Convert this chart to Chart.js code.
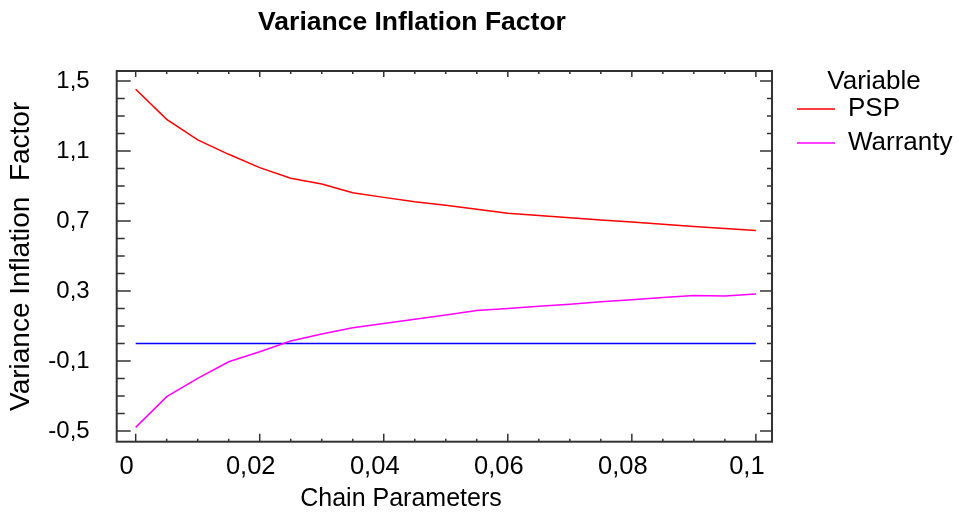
<!DOCTYPE html>
<html>
<head>
<meta charset="utf-8">
<script src="https://cdn.jsdelivr.net/npm/chart.js@4"></script>
<style>
  html, body { margin: 0; padding: 0; background: #fff; }
  #wrap { width: 959px; height: 515px; }
</style>
</head>
<body>
<div id="wrap"><canvas id="vif-chart"></canvas></div>
<script>
// values
const chainParams = [0, 0.005, 0.01, 0.015, 0.02, 0.025, 0.03, 0.035, 0.04, 0.045, 0.05,
                     0.055, 0.06, 0.065, 0.07, 0.075, 0.08, 0.085, 0.09, 0.095, 0.1];
const pspVif = [1.453, 1.281, 1.163, 1.081, 1.005, 0.944, 0.911, 0.862, 0.835, 0.810, 0.790,
                0.767, 0.744, 0.731, 0.719, 0.706, 0.694, 0.681, 0.669, 0.657, 0.645];
const warrantyVif = [-0.479, -0.304, -0.199, -0.104, -0.047, 0.014, 0.054, 0.090, 0.115, 0.138, 0.163,
                     0.188, 0.200, 0.213, 0.225, 0.238, 0.250, 0.263, 0.275, 0.272, 0.283];
const refLineX = [0, 0.1];
const refLineY = [0, 0];
const xTicks = [0, 0.02, 0.04, 0.06, 0.08, 0.1];
const yTicks = [-0.5, -0.1, 0.3, 0.7, 1.1, 1.5];

const FONT = "'Liberation Sans', Arial, sans-serif";
const chartTitle = 'Variance Inflation Factor';
const xTitle = 'Chain Parameters';

function fmt(v) {
    return String(v).replace('.', ',');
}

function toPoints(xs, ys) {
    return xs.map((x, i) => ({ x: x, y: ys[i] }));
}

// frame with inward tick marks on all four sides
const frameTicks = {
    id: 'frameTicks',
    afterDraw(chart) {
        const { ctx, chartArea: a } = chart;
        const x = chart.scales.x;
        const y = chart.scales.y;
        ctx.save();
        ctx.strokeStyle = '#333';
        ctx.lineWidth = 1.5;
        ctx.beginPath();
        for (let i = 0; i <= 20; i++) {
            const px = x.getPixelForValue(i * 0.005);
            const major = i % 4 === 0;
            ctx.moveTo(px, a.bottom);
            ctx.lineTo(px, a.bottom - (major ? 8 : 3));
            ctx.moveTo(px, a.top);
            ctx.lineTo(px, a.top + (major ? 6 : 3));
        }
        for (let i = 0; i <= 20; i++) {
            const py = y.getPixelForValue(-0.5 + i * 0.1);
            const major = i % 4 === 0;
            ctx.moveTo(a.left, py);
            ctx.lineTo(a.left + (major ? 14 : 8), py);
            ctx.moveTo(a.right, py);
            ctx.lineTo(a.right - (major ? 12 : 5), py);
        }
        ctx.stroke();
        ctx.lineWidth = 2;
        ctx.strokeRect(a.left, a.top, a.right - a.left, a.bottom - a.top);
        ctx.restore();
    }
};

// chart title and x title sit left of the plot centre in the original
const titles = {
    id: 'titles',
    afterDraw(chart) {
        const ctx = chart.ctx;
        ctx.save();
        ctx.fillStyle = '#000';
        ctx.textAlign = 'center';
        ctx.textBaseline = 'middle';
        ctx.font = 'bold 26.5px ' + FONT;
        ctx.fillText(chartTitle, 412, 23);
        ctx.font = '25px ' + FONT;
        ctx.fillText(xTitle, 401, 499);
        ctx.restore();
    }
};

const ctx = document.getElementById('vif-chart').getContext('2d');
const vifChart = new Chart(ctx, {
    type: 'line',
    data: {
        datasets: [
            {
                label: 'PSP',
                data: toPoints(chainParams, pspVif),
                borderColor: '#ff0000',
                backgroundColor: '#ff0000',
                borderWidth: 1.5,
                pointRadius: 0,
                tension: 0
            },
            {
                label: 'Warranty',
                data: toPoints(chainParams, warrantyVif),
                borderColor: '#ff00ff',
                backgroundColor: '#ff00ff',
                borderWidth: 1.5,
                pointRadius: 0,
                tension: 0
            },
            {
                label: 'ref',
                data: toPoints(refLineX, refLineY),
                borderColor: '#0000ff',
                backgroundColor: '#0000ff',
                borderWidth: 1.5,
                pointRadius: 0
            }
        ]
    },
    options: {
        responsive: true,
        maintainAspectRatio: false,
        animation: false,
        layout: { padding: 0 },
        plugins: {
            title: { display: false },
            legend: {
                position: 'right',
                align: 'start',
                maxWidth: 170,
                title: {
                    display: true,
                    text: 'Variable',
                    color: '#000',
                    font: { family: FONT, size: 26, lineHeight: 1 },
                    padding: { top: 69, bottom: -7 }
                },
                labels: {
                    boxWidth: 38,
                    boxHeight: 0,
                    padding: 8,
                    color: '#000',
                    font: { family: FONT, size: 26 },
                    filter: item => item.text !== 'ref'
                }
            },
            tooltip: { enabled: false }
        },
        scales: {
            x: {
                type: 'linear',
                position: 'bottom',
                min: -0.00306,
                max: 0.1026,
                afterBuildTicks: s => { s.ticks = xTicks.map(v => ({ value: v })); },
                afterFit: s => { s.height = 73.3; },
                grid: { display: false, drawTicks: false },
                border: { display: false },
                ticks: {
                    callback: v => fmt(v),
                    color: '#000',
                    font: { family: FONT, size: 25.5 },
                    padding: 10,
                    labelOffset: -9,
                    maxRotation: 0,
                    autoSkip: false
                }
            },
            y: {
                type: 'linear',
                position: 'left',
                min: -0.561,
                max: 1.557,
                afterBuildTicks: s => { s.ticks = yTicks.map(v => ({ value: v })); },
                afterFit: s => { s.width = 116.7; },
                grid: { display: false, drawTicks: false },
                border: { display: false },
                ticks: {
                    callback: v => fmt(v),
                    color: '#000',
                    font: { family: FONT, size: 24 },
                    padding: 27,
                    autoSkip: false
                },
                title: {
                    display: true,
                    text: 'Variance Inflation  Factor',
                    color: '#000',
                    font: { family: FONT, size: 28 },
                    padding: { top: 4.5, bottom: 0 }
                }
            },
            xTop: {
                type: 'linear',
                position: 'top',
                display: true,
                afterFit: s => { s.height = 71; },
                grid: { display: false, drawTicks: false },
                border: { display: false },
                ticks: { display: false }
            },
            yRight: {
                type: 'linear',
                position: 'right',
                display: true,
                afterFit: s => { s.width = 17; },
                grid: { display: false, drawTicks: false },
                border: { display: false },
                ticks: { display: false }
            }
        }
    },
    plugins: [frameTicks, titles]
});
</script>
</body>
</html>
